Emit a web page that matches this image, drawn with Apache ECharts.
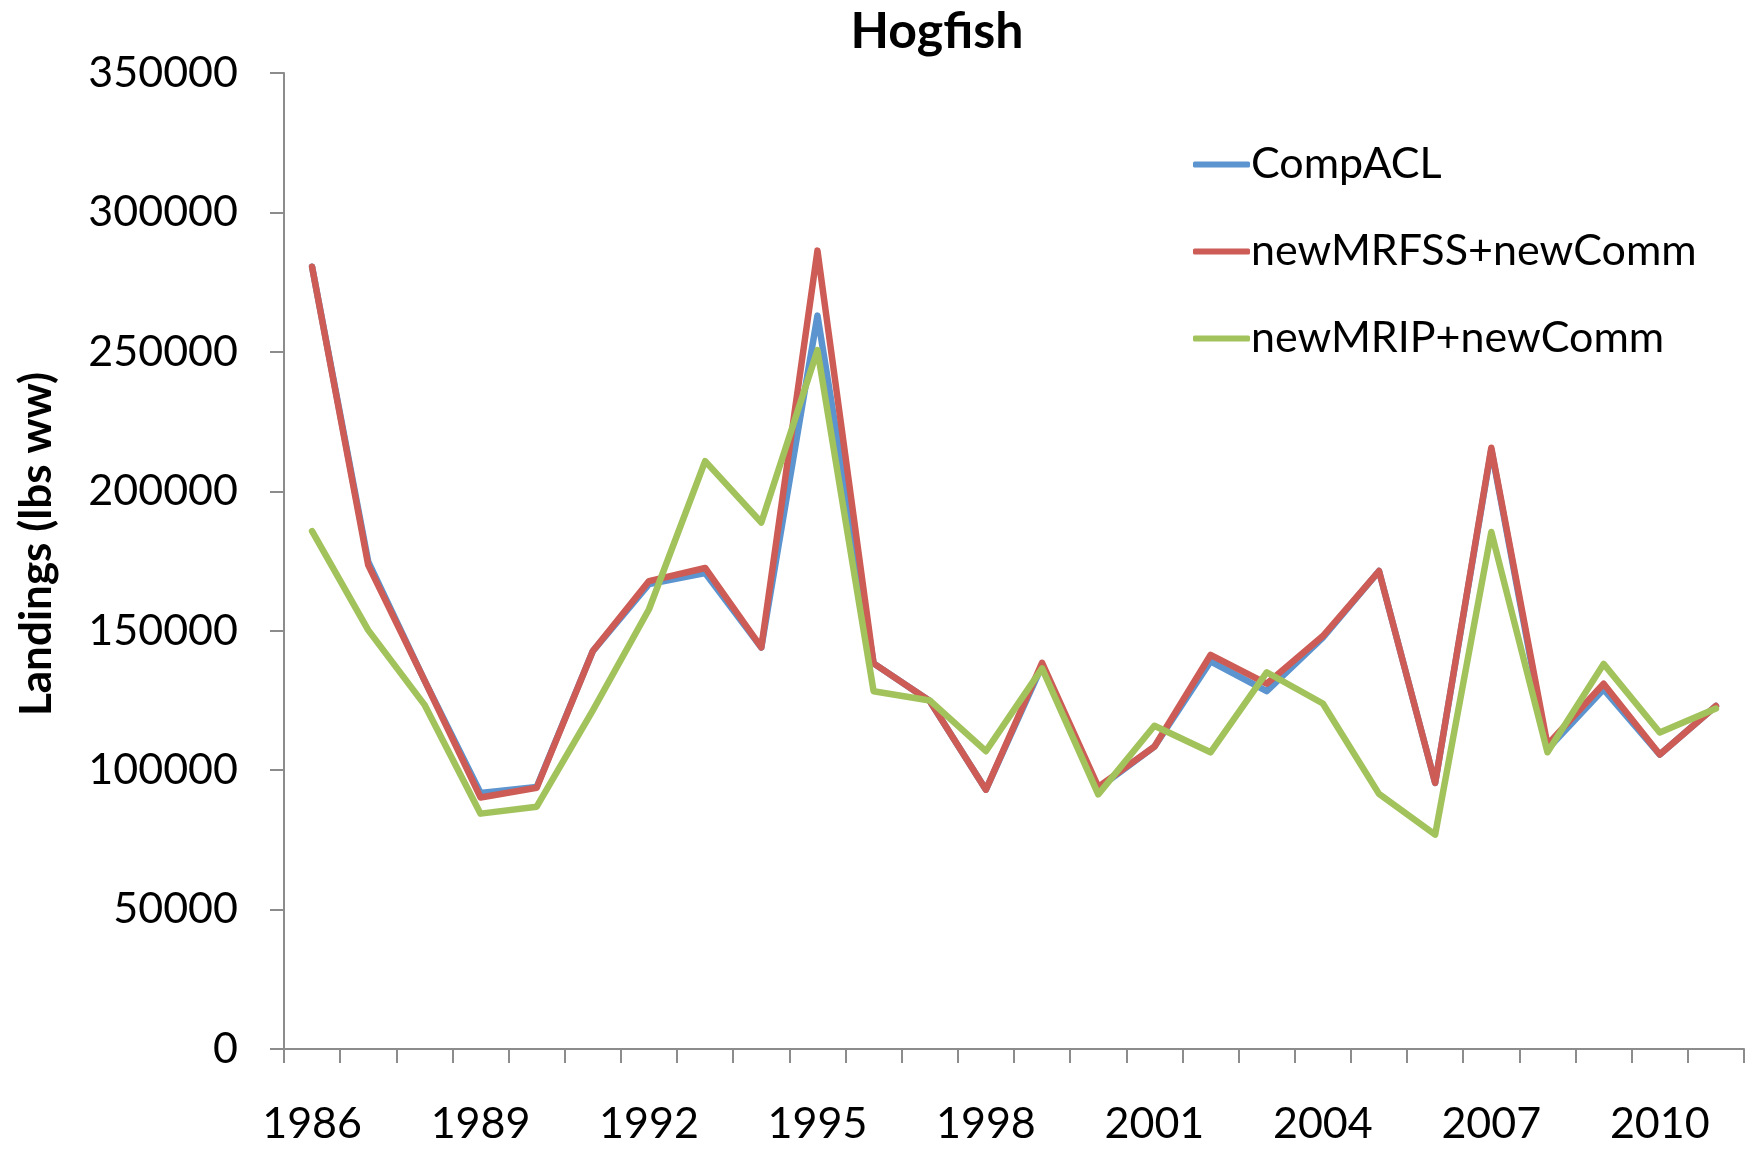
<!DOCTYPE html>
<html>
<head>
<meta charset="utf-8">
<title>Hogfish</title>
<script src="https://cdn.jsdelivr.net/npm/echarts@6/dist/echarts.min.js"></script>
<style>
  html, body { margin: 0; padding: 0; background: #ffffff; }
  #chart { width: 1756px; height: 1149px; }
</style>
</head>
<body>
<div id="chart"></div>
<script>
// Hogfish landings by year (lbs whole weight)
const years = ['1986','1987','1988','1989','1990','1991','1992','1993','1994','1995','1996','1997','1998',
               '1999','2000','2001','2002','2003','2004','2005','2006','2007','2008','2009','2010','2011'];

const compACL = [280500, 174800, 132300, 91800, 94000, 142700, 166700, 170700, 144000, 263000, 138300, 124800, 93000,
                 137500, 93500, 108400, 139000, 128300, 147500, 171400, 95400, 215000, 107500, 129000, 105600, 123000];

const newMRFSS = [280500, 173500, 132300, 90200, 93700, 142700, 167800, 172500, 144000, 286300, 138300, 124800, 93000,
                  138500, 94000, 108400, 141300, 131000, 148100, 171400, 95400, 215600, 109100, 131000, 105600, 123000];

const newMRIP = [185700, 150200, 123500, 84400, 86900, 121400, 157700, 210800, 188800, 250600, 128300, 125000, 106800,
                 136500, 91300, 115900, 106400, 135100, 123900, 91500, 76900, 185400, 106400, 138100, 113500, 122100];

const seriesNames = ['CompACL', 'newMRFSS+newComm', 'newMRIP+newComm'];
const seriesColors = ['#5b94cf', '#cc5c55', '#a2c35c'];

const FONT = 'Lato, "Open Sans", sans-serif';
const AXIS_GREY = '#8c8c8c';
const LABEL_SIZE = 43;

const chart = echarts.init(document.getElementById('chart'), null, { renderer: 'canvas' });

function lineSeries(name, data, color) {
  return {
    name: name,
    type: 'line',
    data: data,
    symbol: 'none',
    smooth: false,
    lineStyle: { width: 6.5, color: color, join: 'round', cap: 'round' },
    itemStyle: { color: color },
    emphasis: { disabled: true },
    animation: false
  };
}

chart.setOption({
  backgroundColor: '#ffffff',
  animation: false,
  grid: { left: 284, right: 12, top: 73, bottom: 100, containLabel: false },
  graphic: [
    {
      type: 'text',
      x: 937, y: 32,
      style: {
        text: 'Hogfish',
        font: 'bold 50px ' + FONT,
        fill: '#000000',
        textAlign: 'center',
        textVerticalAlign: 'middle'
      }
    },
    {
      type: 'text',
      x: 37, y: 544,
      rotation: Math.PI / 2,
      style: {
        text: 'Landings (lbs ww)',
        font: 'bold 44px ' + FONT,
        fill: '#000000',
        textAlign: 'center',
        textVerticalAlign: 'middle'
      }
    }
  ],
  legend: {
    orient: 'vertical',
    left: 1188,
    top: 138,
    itemWidth: 57,
    itemHeight: 6,
    itemGap: 44,
    icon: 'roundRect',
    selectedMode: false,
    data: seriesNames,
    textStyle: {
      fontFamily: FONT,
      fontSize: LABEL_SIZE,
      lineHeight: 43,
      color: '#000000',
      padding: [0, 0, 0, -4]
    }
  },
  xAxis: {
    type: 'category',
    data: years,
    boundaryGap: true,
    axisLine: { show: true, lineStyle: { color: AXIS_GREY, width: 2 } },
    axisTick: { show: true, interval: 0, length: 14, inside: false, lineStyle: { color: AXIS_GREY, width: 2 } },
    axisLabel: {
      interval: 2,
      margin: 54,
      fontFamily: FONT,
      fontSize: LABEL_SIZE,
      color: '#000000'
    },
    splitLine: { show: false }
  },
  yAxis: {
    type: 'value',
    min: 0,
    max: 350000,
    interval: 50000,
    axisLine: { show: true, lineStyle: { color: AXIS_GREY, width: 2 } },
    axisTick: { show: true, length: 14, inside: false, lineStyle: { color: AXIS_GREY, width: 2 } },
    axisLabel: {
      margin: 46,
      fontFamily: FONT,
      fontSize: LABEL_SIZE,
      color: '#000000',
      formatter: function (v) { return String(v); }
    },
    splitLine: { show: false }
  },
  series: [
    lineSeries(seriesNames[0], compACL, seriesColors[0]),
    lineSeries(seriesNames[1], newMRFSS, seriesColors[1]),
    lineSeries(seriesNames[2], newMRIP, seriesColors[2])
  ]
});
</script>
</body>
</html>
